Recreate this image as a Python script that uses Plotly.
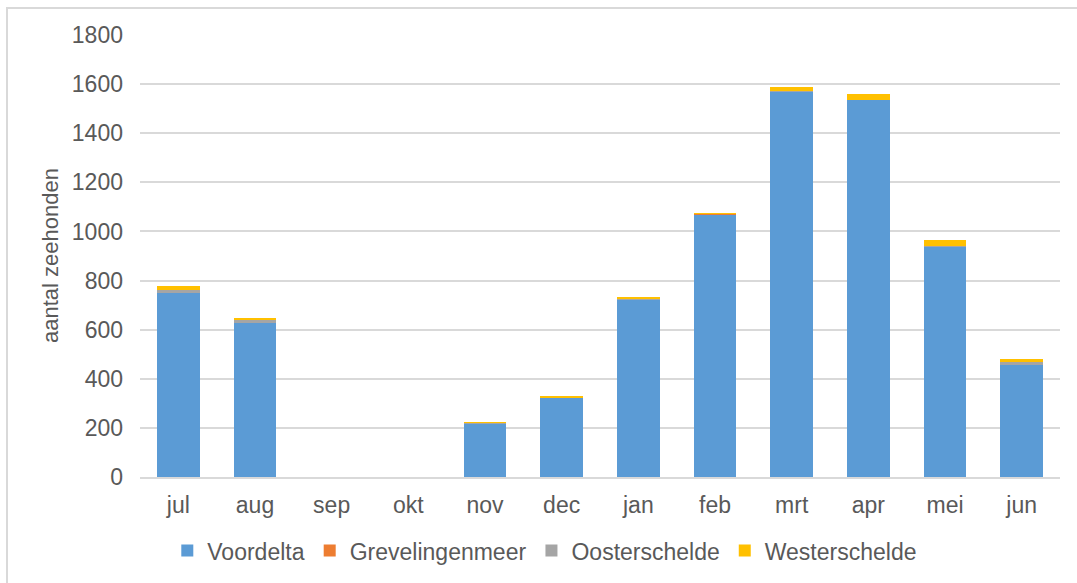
import plotly.graph_objects as go

# Monthly seal counts per area
months = ["jul", "aug", "sep", "okt", "nov", "dec", "jan", "feb", "mrt", "apr", "mei", "jun"]
voordelta = [750, 628, 0, 0, 219, 324, 722, 1070, 1570, 1536, 939, 460]
grevelingenmeer = [2, 3, 0, 0, 0, 0, 0, 3, 0, 0, 0, 0]
oosterschelde = [8, 7, 0, 0, 1, 1, 1, 1, 1, 1, 1, 8]
westerschelde = [19, 11, 0, 0, 4, 5, 12, 1, 18, 23, 24, 11]

series = [
    ("Voordelta", voordelta, "#5B9BD5"),
    ("Grevelingenmeer", grevelingenmeer, "#ED7D31"),
    ("Oosterschelde", oosterschelde, "#A5A5A5"),
    ("Westerschelde", westerschelde, "#FFC000"),
]

FONT = "Liberation Sans, Arial, sans-serif"
TEXT = "#595959"
GRID = "#D9D9D9"
FS = 23

fig = go.Figure()
for name, vals, color in series:
    fig.add_trace(go.Bar(x=months, y=vals, name=name, marker_color=color,
                         marker_line_width=0))

W, H = 1077, 583
ml, mr, mt, mb = 140, 17, 35, 106
pw, ph = W - ml - mr, H - mt - mb

fig.update_layout(
    width=W, height=H,
    barmode="stack", bargap=0.44,
    plot_bgcolor="white", paper_bgcolor="white",
    margin=dict(l=ml, r=mr, t=mt, b=mb, autoexpand=False),
    font=dict(family=FONT, size=FS, color=TEXT),
    legend=dict(orientation="h", x=0.44, xanchor="center", y=-0.118, yanchor="top",
                font=dict(size=FS, color=TEXT), itemwidth=30, traceorder="normal"),
    xaxis=dict(showgrid=False, showline=True, linecolor=GRID, linewidth=1.5,
               ticks="", tickfont=dict(size=FS, color=TEXT), ticklabelstandoff=7),
    yaxis=dict(range=[0, 1800], dtick=200, showgrid=True, gridcolor=GRID, gridwidth=1.5,
               zeroline=False, showline=False, ticks="",
               tickfont=dict(size=FS, color=TEXT), ticklabelstandoff=16),
    annotations=[dict(text="aantal zeehonden", textangle=-90, xref="paper", yref="paper",
                      x=(50 - ml) / pw, y=0.5, xanchor="center", yanchor="middle",
                      showarrow=False, font=dict(size=22, color=TEXT))],
    shapes=[dict(type="rect", xref="paper", yref="paper",
                 x0=(7 - ml) / pw, x1=(W + 20 - ml) / pw,
                 y0=(H - mb - (H + 20)) / ph, y1=(H - mb - 8) / ph,
                 line=dict(color=GRID, width=2), fillcolor="rgba(0,0,0,0)", layer="below")],
)

fig.write_html("out.html")
